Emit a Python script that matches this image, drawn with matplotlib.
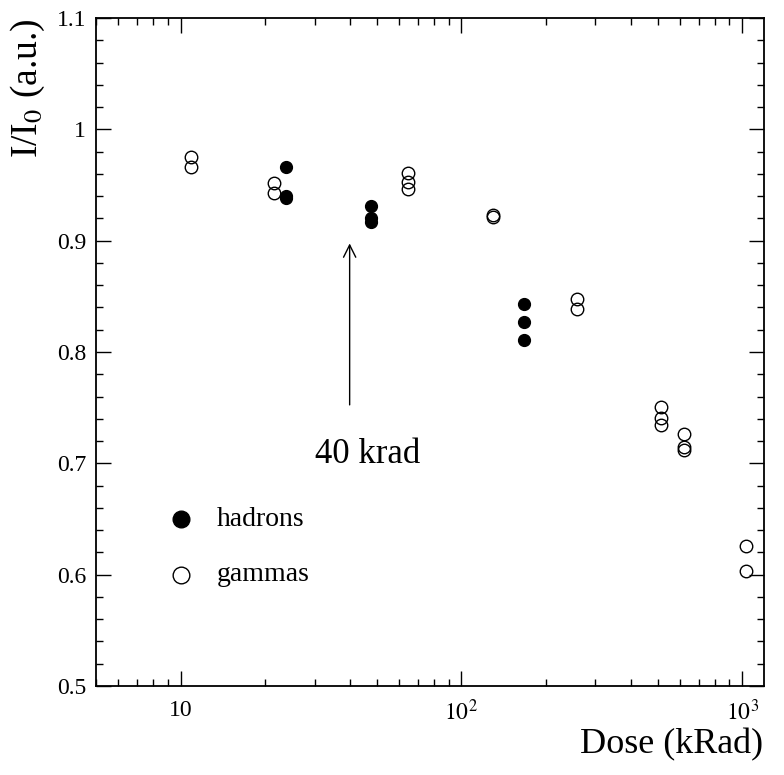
import matplotlib
matplotlib.use("Agg")
import matplotlib.pyplot as plt
from matplotlib.ticker import FixedLocator, NullFormatter, LogLocator, MultipleLocator
import numpy as np

plt.rcParams['font.family'] = ['Liberation Serif', 'DejaVu Serif']
plt.rcParams['mathtext.fontset'] = 'stix'

# Data
hadron_dose = [23.8, 23.8, 23.8, 47.7, 47.7, 47.7, 167, 167, 167]
hadron_ratio = [0.966, 0.940, 0.938, 0.931, 0.920, 0.917, 0.843, 0.827, 0.811]

gamma_dose = [10.85, 10.85, 21.6, 21.6, 64.7, 64.7, 64.7, 129.5, 129.5,
              259, 259, 513, 513, 513, 618, 618, 618, 1035, 1035]
gamma_ratio = [0.975, 0.966, 0.952, 0.943, 0.961, 0.953, 0.946, 0.923, 0.921,
               0.848, 0.839, 0.751, 0.741, 0.734, 0.726, 0.715, 0.712, 0.626, 0.603]

x_tick_values = [10, 100, 1000]
x_tick_labels = ['10', r'$10^{2}$', r'$10^{3}$']
y_tick_values = [0.5, 0.6, 0.7, 0.8, 0.9, 1.0, 1.1]
y_tick_labels = ['0.5', '0.6', '0.7', '0.8', '0.9', '1', '1.1']

legend_labels = ['hadrons', 'gammas']
annot_text = '40 krad'
annot_dose = 40

fig = plt.figure(figsize=(7.84, 7.75), dpi=100)
ax = fig.add_axes([96/784, 89/775, (763.5-96)/784, (686-18)/775])

ax.set_xscale('log')
ax.set_xlim(5, 1190)
ax.set_ylim(0.5, 1.1)

ax.plot(hadron_dose, hadron_ratio, 'o', ms=8.5, mfc='black', mec='black', mew=1)
ax.plot(gamma_dose, gamma_ratio, 'o', ms=9, mfc='none', mec='black', mew=1)

ax.xaxis.set_major_locator(FixedLocator(x_tick_values))
ax.set_xticklabels(x_tick_labels)
ax.xaxis.set_minor_locator(LogLocator(base=10, subs=np.arange(2, 10), numticks=20))
ax.xaxis.set_minor_formatter(NullFormatter())
ax.yaxis.set_major_locator(FixedLocator(y_tick_values))
ax.set_yticklabels(y_tick_labels)
ax.yaxis.set_minor_locator(MultipleLocator(0.02))

ax.tick_params(which='both', direction='in', top=True, right=True, width=1, color='black')
ax.tick_params(which='major', length=10.5, labelsize=17, pad=7)
ax.tick_params(which='minor', length=5)
ax.tick_params(axis='x', which='major', pad=10)
for s in ax.spines.values():
    s.set_linewidth(1.3)

# Arrow annotation
ax.annotate('', xy=(annot_dose, 0.9), xytext=(annot_dose, 0.75),
            arrowprops=dict(arrowstyle='->', lw=1, color='black', mutation_scale=22))
ax.text(30, 0.70, annot_text, fontsize=25, ha='left', va='baseline')

# Legend drawn manually
ax.plot([10], [0.65], 'o', ms=12, mfc='black', mec='black')
ax.plot([10], [0.60], 'o', ms=12, mfc='none', mec='black', mew=1)
ax.text(13.5, 0.65, legend_labels[0], fontsize=20, ha='left', va='center')
ax.text(13.5, 0.60, legend_labels[1], fontsize=20, ha='left', va='center')

fig.text(763.5/784, 1 - 745/775, 'Dose (kRad)', fontsize=26, ha='right', va='center')
fig.text(28/784, 1 - 18/775, r'I/I$_0$ (a.u.)', fontsize=27, ha='center', va='top', rotation=90)

fig.savefig('out.png', dpi=100)
